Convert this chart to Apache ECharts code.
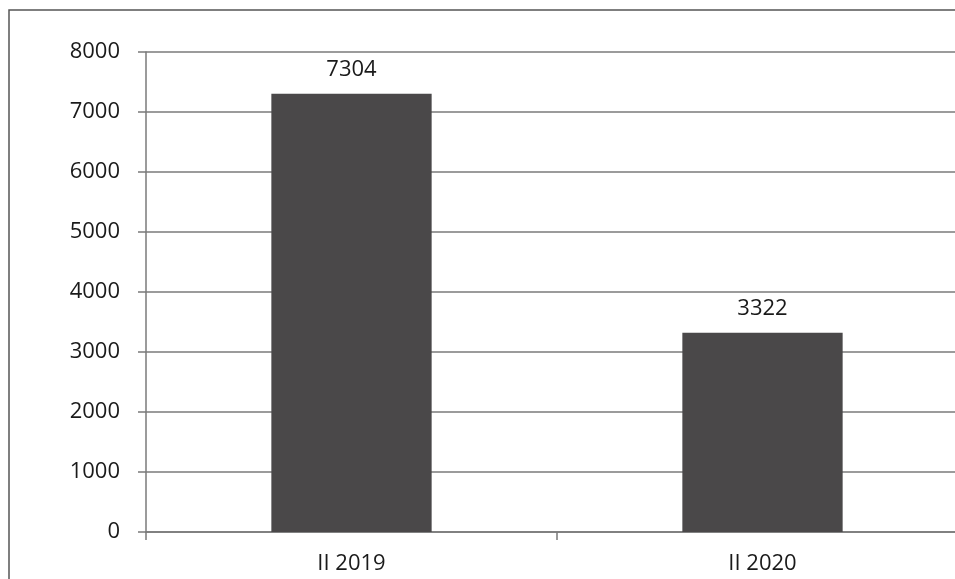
<!DOCTYPE html>
<html><head><meta charset="utf-8">
<script src="https://cdn.jsdelivr.net/npm/echarts@6/dist/echarts.min.js"></script>
<style>html,body{margin:0;padding:0;background:#fff;overflow:hidden;}#c{width:955px;height:579px;}</style>
</head><body><div id="c"></div>
<script>
const categories = ['II 2019', 'II 2020'];
const values = [7304, 3322];
const yTicks = {min: 0, max: 8000, interval: 1000};

const chart = echarts.init(document.getElementById('c'), null, {renderer: 'canvas'});
const font = '"Open Sans", "Liberation Sans", sans-serif';
chart.setOption({
  animation: false,
  backgroundColor: '#fff',
  graphic: [{
    type: 'polyline', z: 10,
    shape: {points: [[9, 600], [9, 10], [970, 10]]},
    style: {stroke: '#555', lineWidth: 1.5, fill: null}
  }],
  grid: {left: 146, width: 822, top: 52, height: 480, containLabel: false, outerBoundsMode: 'none'},
  xAxis: {
    type: 'category', data: categories,
    axisLine: {show: true, lineStyle: {color: '#7a7a7a', width: 1.5}},
    axisTick: {show: true, alignWithLabel: false, length: 8, lineStyle: {color: '#7a7a7a', width: 1.5}},
    axisLabel: {color: '#1a1a1a', fontSize: 22, fontFamily: font, margin: 21}
  },
  yAxis: {
    type: 'value', min: yTicks.min, max: yTicks.max, interval: yTicks.interval,
    axisLine: {show: true, lineStyle: {color: '#7a7a7a', width: 1.5}},
    axisTick: {show: true, length: 8, lineStyle: {color: '#7a7a7a', width: 1.5}},
    splitLine: {show: true, lineStyle: {color: '#7a7a7a', width: 1.5}},
    axisLabel: {color: '#1a1a1a', fontSize: 22, fontFamily: font, margin: 26,
      formatter: v => String(v)}
  },
  series: [{
    type: 'bar', data: values, barWidth: '39%',
    itemStyle: {color: '#4a4849'},
    label: {show: true, position: 'top', distance: 13, color: '#1a1a1a', fontSize: 22, fontFamily: font}
  }]
});
</script></body></html>
